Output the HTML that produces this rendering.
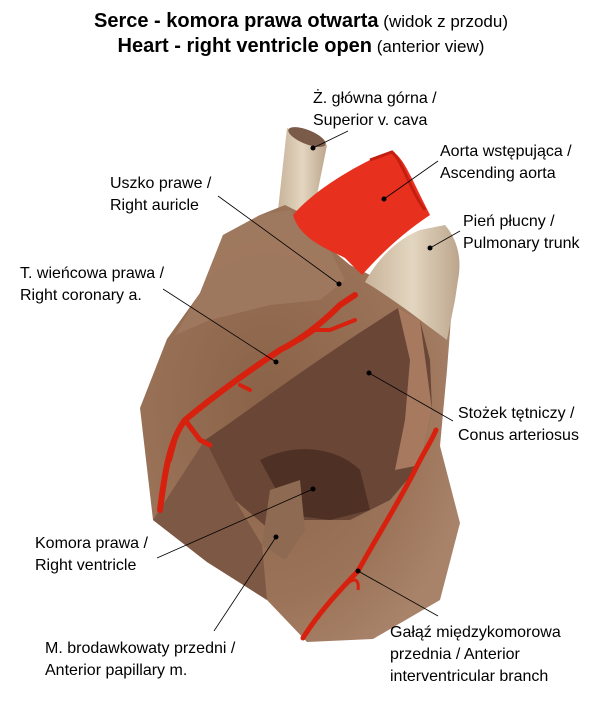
<!DOCTYPE html>
<html><head><meta charset="utf-8"><style>
html,body{margin:0;padding:0;background:#fff;}
body{width:602px;height:720px;overflow:hidden;position:relative;font-family:"Liberation Sans",sans-serif;}
svg{position:absolute;left:0;top:0;}
</style></head><body>
<svg width="602" height="720" viewBox="0 0 602 720" xmlns="http://www.w3.org/2000/svg" font-family="Liberation Sans, sans-serif">
<defs>
<radialGradient id="body" cx="0.4" cy="0.45" r="0.65">
<stop offset="0" stop-color="#8a6248"/><stop offset="0.7" stop-color="#9b7358"/><stop offset="1" stop-color="#a8836a"/>
</radialGradient>
<linearGradient id="vein" x1="0" y1="0" x2="1" y2="0"><stop offset="0" stop-color="#c9b39a"/><stop offset="0.5" stop-color="#e3d6c0"/><stop offset="1" stop-color="#bca58c"/></linearGradient>
</defs>
<!-- title -->
<text x="301" y="27" text-anchor="middle" font-size="20"><tspan font-weight="bold">Serce - komora prawa otwarta</tspan><tspan font-size="17"> (widok z przodu)</tspan></text>
<text x="301" y="52" text-anchor="middle" font-size="20"><tspan font-weight="bold">Heart - right ventricle open</tspan><tspan font-size="17"> (anterior view)</tspan></text>

<!-- SVC -->
<path d="M287,128 L327,145 L316,200 L300,215 L278,210 Z" fill="url(#vein)"/>
<ellipse cx="307" cy="137" rx="20" ry="7" transform="rotate(22 307 137)" fill="#7a5a48"/>
<!-- main body -->
<path d="M223,235 L260,215 L285,205 L305,215 L320,240 L350,265 L380,280 L420,270 L453,292 L447,370 L440,446 L460,523 L440,600 L373,639 L307,642 L267,600 L207,562 L153,520 L140,408 L167,339 L200,293 Z" fill="url(#body)"/>
<!-- auricle lighter -->
<path d="M223,235 L260,215 L290,210 L330,250 L345,280 L320,300 L270,305 L210,320 L175,335 L200,293 Z" fill="#a07a60" opacity="0.85"/>
<!-- aorta -->
<path d="M293,215 C310,195 340,175 370,160 L392,152 C402,155 410,175 425,205 L430,215 C400,235 380,255 362,275 L345,258 C330,250 300,240 293,215 Z" fill="#e8301e"/>
<path d="M370,160 L392,152 C402,160 410,190 425,210" fill="none" stroke="#c41e10" stroke-width="3"/>
<!-- pulmonary trunk -->
<path d="M365,282 C380,255 400,238 420,230 L445,225 C458,240 462,260 458,280 L455,300 L447,340 C420,320 395,300 365,282 Z" fill="url(#vein)"/>
<!-- opened ventricle -->
<path d="M205,440 C250,410 300,370 398,308 L420,320 L430,360 L432,410 L420,465 L390,500 L350,520 L300,520 L270,530 L235,500 Z" fill="#6a4636"/>
<path d="M398,308 L420,320 L432,410 L420,465 L395,470 L405,420 L410,360 Z" fill="#a77a60"/>
<path d="M260,460 C300,440 340,450 360,470 L370,510 L330,520 L290,515 Z" fill="#4e3024"/>
<path d="M270,490 L300,480 L305,530 L285,560 L262,545 Z" fill="#8e6a52"/>
<path d="M207,562 L153,520 L205,440 L235,500 L262,545 L267,600 Z" fill="#7d5844"/>
<!-- coronary artery -->
<g fill="none" stroke="#d8200e" stroke-linecap="round">
<path d="M160,510 C165,470 170,440 185,420 C215,395 250,370 280,350 C300,340 320,325 340,305 L355,295" stroke-width="6"/>
<path d="M185,420 L200,440 L210,445" stroke-width="5"/>
<path d="M178,430 L170,460" stroke-width="4"/>
<path d="M300,340 L315,330 L330,330 L355,320" stroke-width="4"/>
<path d="M240,385 L250,390" stroke-width="4"/>
</g>
<!-- interventricular branch -->
<path d="M303,638 C320,610 345,585 358,571 C375,540 400,500 415,470 C425,450 432,440 436,430" fill="none" stroke="#d8200e" stroke-width="5" stroke-linecap="round"/>
<path d="M340,592 C350,578 360,575 358,590" fill="none" stroke="#d8200e" stroke-width="3"/>

<!-- leader lines -->
<g stroke="#000" stroke-width="0.8">
<line x1="348" y1="131" x2="313" y2="148"/>
<line x1="438" y1="161" x2="384" y2="199"/>
<line x1="460" y1="231" x2="430" y2="248"/>
<line x1="218" y1="196" x2="339" y2="284"/>
<line x1="163" y1="289" x2="276" y2="362"/>
<line x1="453" y1="421" x2="369" y2="373"/>
<line x1="157" y1="558" x2="313" y2="489"/>
<line x1="214" y1="631" x2="276" y2="537"/>
<line x1="438" y1="616" x2="358" y2="571"/>
</g>
<g fill="#000">
<circle cx="313" cy="148" r="2.5"/><circle cx="384" cy="199" r="2.5"/><circle cx="430" cy="248" r="2.5"/>
<circle cx="339" cy="284" r="2.5"/><circle cx="276" cy="362" r="2.5"/><circle cx="369" cy="373" r="2.5"/>
<circle cx="313" cy="489" r="2.5"/><circle cx="276" cy="537" r="2.5"/><circle cx="358" cy="571" r="2.5"/>
</g>

<!-- labels -->
<g font-size="16" fill="#000">
<text x="313" y="103">Ż. główna górna /</text><text x="313" y="125">Superior v. cava</text>
<text x="440" y="156">Aorta wstępująca /</text><text x="440" y="178">Ascending aorta</text>
<text x="110" y="188">Uszko prawe /</text><text x="110" y="210">Right auricle</text>
<text x="463" y="226">Pień płucny /</text><text x="463" y="248">Pulmonary trunk</text>
<text x="20" y="278">T. wieńcowa prawa /</text><text x="20" y="300">Right coronary a.</text>
<text x="458" y="418">Stożek tętniczy /</text><text x="458" y="440">Conus arteriosus</text>
<text x="35" y="548">Komora prawa /</text><text x="35" y="570">Right ventricle</text>
<text x="45" y="653">M. brodawkowaty przedni /</text><text x="45" y="675">Anterior papillary m.</text>
<text x="390" y="637">Gałąź międzykomorowa</text><text x="390" y="659">przednia / Anterior</text><text x="390" y="681">interventricular branch</text>
</g>
</svg>
</body></html>
